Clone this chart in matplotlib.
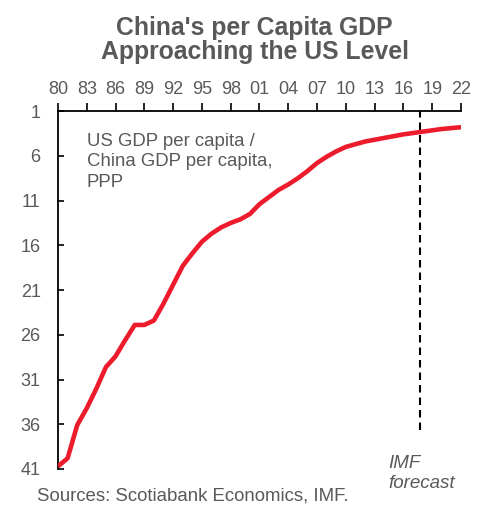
import matplotlib
matplotlib.use("Agg")
import matplotlib.pyplot as plt

years = list(range(1980, 2023))
ratio = [40.7, 39.8, 36.1, 34.2, 32.0, 29.6, 28.4, 26.6, 24.9, 24.9,
         24.4, 22.5, 20.4, 18.3, 16.9, 15.6, 14.7, 14.0, 13.5, 13.1,
         12.5, 11.4, 10.6, 9.8, 9.2, 8.5, 7.7, 6.8, 6.1, 5.5,
         5.0, 4.7, 4.4, 4.2, 4.0, 3.8, 3.6, 3.45, 3.3, 3.15,
         3.0, 2.9, 2.8]
xtick_years = list(range(1980, 2023, 3))
xtick_labels = [f"{y % 100:02d}" for y in xtick_years]
yticks = [1, 6, 11, 16, 21, 26, 31, 36, 41]
forecast_start = 2017.7

plt.rcParams['font.family'] = ['Liberation Sans', 'DejaVu Sans']
gray = '#595959'

fig = plt.figure(figsize=(4.85, 5.05), dpi=100)
ax = fig.add_axes([0.1196, 0.0713, 0.8309, 0.7087])

ax.plot(years, ratio, color='#EC1C2D', lw=3.3, solid_capstyle='butt', zorder=3)
ax.axvline(forecast_start, ymin=0.11, ymax=1.0, color='black', lw=1.5,
           ls=(0, (3.6, 2.4)), zorder=2)

ax.set_xlim(1980, 2022)
ax.set_ylim(41, 1)
ax.xaxis.tick_top()
ax.set_xticks(xtick_years)
ax.set_xticklabels(xtick_labels)
ax.set_yticks(yticks)
ax.tick_params(axis='x', direction='out', length=6, width=1.2, color='black',
               labelsize=13, labelcolor=gray, pad=3.5)
ax.tick_params(axis='y', direction='in', length=4, width=1.2, color='black',
               labelsize=13, labelcolor=gray, pad=12.5)

for s in ['right', 'bottom']:
    ax.spines[s].set_visible(False)
for s in ['top', 'left']:
    ax.spines[s].set_linewidth(1.3)
    ax.spines[s].set_color('black')

ax.text(1983.0, 3.4, "US GDP per capita /\nChina GDP per capita,\nPPP",
        fontsize=13.4, color=gray, va='top', ha='left', linespacing=1.3)

fig.text(0.80, 0.062, "IMF\nforecast", fontsize=13.5, color=gray,
         style='italic', ha='left', va='center', linespacing=1.2)
fig.text(0.0757, 0.018, "Sources: Scotiabank Economics, IMF.", fontsize=13.4,
         color=gray, ha='left', va='center')

fig.text(0.525, 0.921, "China's per Capita GDP\nApproaching the US Level",
         fontsize=17.8, fontweight='bold', color=gray, ha='center', va='center',
         linespacing=0.98)

fig.savefig("out.png", dpi=100)
